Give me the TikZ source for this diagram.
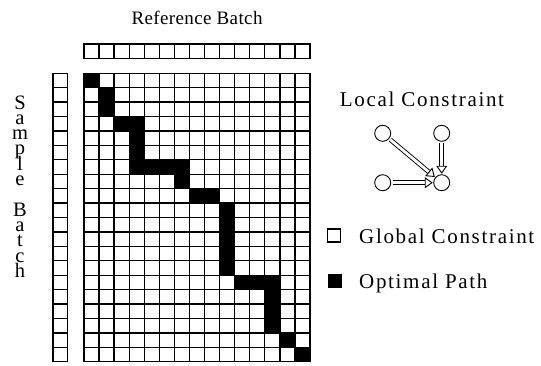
\documentclass[tikz,border=0pt]{standalone}
\usepackage{fontspec}
\setmainfont{Liberation Serif}
\newfontfamily\lblfont[LetterSpace=8]{Liberation Serif}
\newfontfamily\reffont[LetterSpace=2]{Liberation Serif}
\usetikzlibrary{arrows.meta}
\begin{document}
\begin{tikzpicture}[x=1pt,y=-1pt,
  gridline/.style={line width=1.3pt, black},
  lbl/.style={font=\fontsize{21}{21}\lblfont, inner sep=0pt},
  vlbl/.style={font=\fontsize{20.5}{20.5}\selectfont, inner sep=0pt, anchor=base},
  dot/.style={circle, draw, line width=0.9pt, minimum size=16pt, inner sep=0pt},
  hollow/.style={double, double distance=2.8pt, line width=0.9pt,
     -{Triangle[open, length=8pt, width=11pt, line width=0.9pt]},
     shorten <=1.5pt, shorten >=0.5pt},
  pathcell/.style={fill=black}]
\useasboundingbox (0,0) rectangle (541,365);
\fill[white] (0,0) rectangle (541,365);
\def\cw{15.067}
\def\ch{14.42}
% optimal path cells (col,row)
\foreach \c/\r in {0/0,1/1,1/2,2/3,3/3,3/4,3/5,3/6,4/6,5/6,6/6,6/7,7/8,8/8,
  9/9,9/10,9/11,9/12,9/13,10/14,11/14,12/14,12/15,12/16,12/17,13/18,14/19}
  \fill[pathcell] ({84+\c*\cw},{73.3+\r*\ch}) rectangle +(\cw,\ch);
% matrix grid
\foreach \i in {0,...,15}
  \draw[gridline] ({84+\i*\cw},73.3) -- ({84+\i*\cw},{73.3+20*\ch});
\foreach \j in {0,...,20}
  \draw[gridline] (84,{73.3+\j*\ch}) -- (310,{73.3+\j*\ch});
% top strip
\foreach \i in {0,...,14}
  \draw[gridline] ({84+\i*\cw},44) rectangle +(\cw,14.3);
% left strip
\foreach \j in {0,...,19}
  \draw[gridline] (53,{73.3+\j*\ch}) rectangle +(14.3,\ch);
% labels
\node[font=\fontsize{19}{19}\reffont, inner sep=0pt, anchor=base] (ref) at (197,24) {Reference Batch};
\foreach \k/\t in {0/S,1/a,2/m,3/p,4/l,5/e,7/B,8/a,9/t,10/c,11/h}
  \node[vlbl] (sb\k) at (20,{109+\k*15.3}) {\t};
\node[lbl, anchor=base] (lc) at (422,106.7) {Local Constraint};
% local constraint
\node[dot] (c1) at (382.7,133.3) {};
\node[dot] (c2) at (441.7,133.3) {};
\node[dot] (c3) at (382.7,182.7) {};
\node[dot] (c4) at (441.7,182.7) {};
\draw[hollow] (c1) -- (c4);
\draw[hollow] (c2) -- (c4);
\draw[hollow] (c3) -- (c4);
% legend
\node[draw, line width=1.1pt, minimum size=13pt, inner sep=0pt] (gsq) at (334,235.5) {};
\node[lbl, anchor=base west] (gt) at (359,243.3) {Global Constraint};
\node[fill=black, minimum size=14pt, inner sep=0pt] (osq) at (334.5,281) {};
\node[lbl, anchor=base west] (ot) at (359,288) {Optimal Path};
\end{tikzpicture}
\end{document}
